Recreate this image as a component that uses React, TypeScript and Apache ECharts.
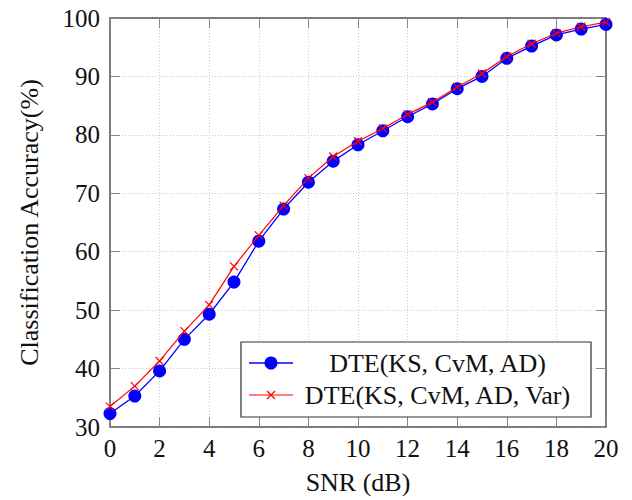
import React, { useEffect, useRef } from "react";
import * as echarts from "echarts";

// SNR (dB) values along the x axis
const snr = [0, 1, 2, 3, 4, 5, 6, 7, 8, 9, 10, 11, 12, 13, 14, 15, 16, 17, 18, 19, 20];

// Classification accuracy (%) for each detector
const accThreeStats = [
  32.3, 35.3, 39.6, 45.0, 49.3, 54.8, 61.8, 67.3, 71.9, 75.5, 78.3,
  80.7, 83.1, 85.3, 87.9, 90.0, 93.1, 95.2, 97.1, 98.1, 98.9,
];
const accFourStats = [
  33.5, 37.0, 41.3, 46.4, 50.9, 57.5, 62.8, 67.9, 72.6, 76.3, 78.9,
  81.1, 83.5, 85.6, 88.2, 90.5, 93.4, 95.6, 97.4, 98.5, 99.3,
];

const seriesNames = ["DTE(KS, CvM, AD)", "DTE(KS, CvM, AD, Var)"];
const yTicks = { min: 30, max: 100, step: 10 };
const xTicks = { min: 0, max: 20, step: 2 };

const FONT = "'Liberation Serif', 'DejaVu Serif', serif";
const AXIS_COLOR = "#555";
const BLUE = "#0000ff";
const RED = "#ff0000";
const CROSS = "path://M0,0L10,10M10,0L0,10";

export default function App() {
  const ref = useRef<HTMLDivElement>(null);

  useEffect(() => {
    document.body.style.margin = "0";
    if (!ref.current) return;
    const chart = echarts.init(ref.current, undefined, { renderer: "svg" });

    const tickStyle = { show: true, inside: true, length: 10, lineStyle: { color: "#888", width: 1 } };
    const axisLine = { show: true, onZero: false, lineStyle: { color: AXIS_COLOR, width: 1.5 } };
    const splitLine = { show: true, lineStyle: { color: "#c8c8c8", type: [1, 2] as any, width: 1 } };

    // legend box drawn with graphic elements
    const lx = 241, ly = 342, lw = 350, lh = 75;
    const rowY = [363, 395];
    const sampleX0 = 249, sampleX1 = 293, markX = 271;
    const textCX = 437.5;

    chart.setOption({
      animation: false,
      grid: { left: 110, right: 26, top: 18, bottom: 70, containLabel: false },
      xAxis: [
        {
          type: "value",
          min: xTicks.min,
          max: xTicks.max,
          interval: xTicks.step,
          position: "bottom",
          name: "SNR (dB)",
          nameLocation: "middle",
          nameGap: 42,
          nameTextStyle: { fontFamily: FONT, fontSize: 26, color: "#111" },
          axisLine,
          axisTick: tickStyle,
          axisLabel: { fontFamily: FONT, fontSize: 25, color: "#111", margin: 9 },
          splitLine,
        },
        {
          type: "value",
          min: xTicks.min,
          max: xTicks.max,
          interval: xTicks.step,
          position: "top",
          axisLine,
          axisTick: tickStyle,
          axisLabel: { show: false },
          splitLine: { show: false },
        },
      ],
      yAxis: [
        {
          type: "value",
          min: yTicks.min,
          max: yTicks.max,
          interval: yTicks.step,
          position: "left",
          name: "Classification Accuracy(%)",
          nameLocation: "middle",
          nameGap: 68,
          nameTextStyle: { fontFamily: FONT, fontSize: 26, color: "#111" },
          axisLine,
          axisTick: tickStyle,
          axisLabel: { fontFamily: FONT, fontSize: 25, color: "#111", margin: 10 },
          splitLine,
        },
        {
          type: "value",
          min: yTicks.min,
          max: yTicks.max,
          interval: yTicks.step,
          position: "right",
          axisLine,
          axisTick: tickStyle,
          axisLabel: { show: false },
          splitLine: { show: false },
        },
      ],
      series: [
        {
          name: seriesNames[0],
          type: "line",
          data: snr.map((x, i) => [x, accThreeStats[i]]),
          symbol: "circle",
          symbolSize: 13,
          lineStyle: { color: BLUE, width: 1.3 },
          itemStyle: { color: BLUE },
          clip: false,
          z: 2,
        },
        {
          name: seriesNames[1],
          type: "line",
          data: snr.map((x, i) => [x, accFourStats[i]]),
          symbol: CROSS,
          symbolSize: 8,
          lineStyle: { color: RED, width: 1.2 },
          itemStyle: { color: RED, borderColor: RED, borderWidth: 1.2 },
          clip: false,
          z: 3,
        },
      ],
      graphic: [
        {
          type: "rect",
          shape: { x: lx, y: ly, width: lw, height: lh },
          style: { fill: "#fff", stroke: "#333", lineWidth: 1.2 },
          z: 10,
        },
        {
          type: "line",
          shape: { x1: sampleX0, y1: rowY[0], x2: sampleX1, y2: rowY[0] },
          style: { stroke: BLUE, lineWidth: 1.3 },
          z: 11,
        },
        {
          type: "circle",
          shape: { cx: markX, cy: rowY[0], r: 6.5 },
          style: { fill: BLUE },
          z: 12,
        },
        {
          type: "text",
          x: textCX,
          y: rowY[0],
          style: {
            text: seriesNames[0],
            align: "center",
            verticalAlign: "middle",
            fontFamily: FONT,
            fontSize: 26,
            fill: "#111",
          },
          z: 12,
        },
        {
          type: "line",
          shape: { x1: sampleX0, y1: rowY[1], x2: sampleX1, y2: rowY[1] },
          style: { stroke: RED, lineWidth: 1.2 },
          z: 11,
        },
        {
          type: "line",
          shape: { x1: markX - 4, y1: rowY[1] - 4, x2: markX + 4, y2: rowY[1] + 4 },
          style: { stroke: RED, lineWidth: 1.2 },
          z: 12,
        },
        {
          type: "line",
          shape: { x1: markX + 4, y1: rowY[1] - 4, x2: markX - 4, y2: rowY[1] + 4 },
          style: { stroke: RED, lineWidth: 1.2 },
          z: 12,
        },
        {
          type: "text",
          x: textCX,
          y: rowY[1],
          style: {
            text: seriesNames[1],
            align: "center",
            verticalAlign: "middle",
            fontFamily: FONT,
            fontSize: 26,
            fill: "#111",
          },
          z: 12,
        },
      ],
    });

    return () => chart.dispose();
  }, []);

  return <div ref={ref} style={{ width: 632, height: 500 }} />;
}
